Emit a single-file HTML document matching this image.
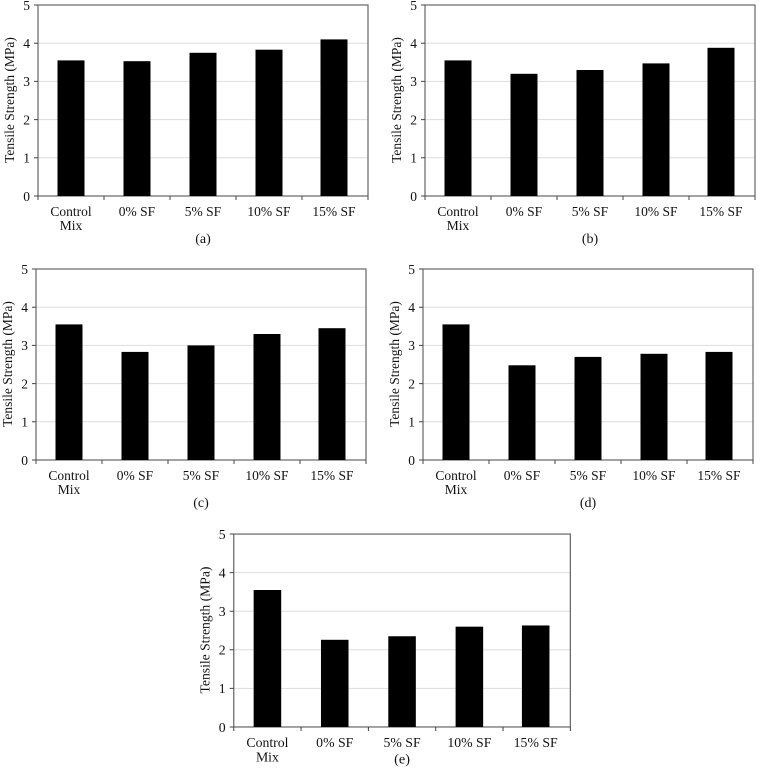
<!DOCTYPE html>
<html><head><meta charset="utf-8"><style>
html,body{margin:0;padding:0;background:#fff;}
svg{display:block;}
text{font-family:"Liberation Serif",serif;font-size:13.5px;fill:#111;}
.g{stroke:#ddd;stroke-width:1}
.t{stroke:#444;stroke-width:1}
</style></head><body>
<svg width="764" height="771" viewBox="0 0 764 771" xmlns="http://www.w3.org/2000/svg">

<g transform="translate(0,0)">
<line class="g" x1="38" y1="157.8" x2="368" y2="157.8"/><line class="g" x1="38" y1="119.6" x2="368" y2="119.6"/><line class="g" x1="38" y1="81.4" x2="368" y2="81.4"/><line class="g" x1="38" y1="43.2" x2="368" y2="43.2"/>
<rect x="38" y="5" width="330" height="191" fill="none" stroke="#666" stroke-width="1.2"/>
<path class="t" d="M38 196v4M104 196v4M170 196v4M236 196v4M302 196v4M368 196v4M34 196h4M34 157.8h4M34 119.6h4M34 81.4h4M34 43.2h4M34 5h4"/>
<g text-anchor="end"><text x="30" y="201">0</text><text x="30" y="162.5">1</text><text x="30" y="124.5">2</text><text x="30" y="86">3</text><text x="30" y="48">4</text><text x="30" y="10">5</text></g>
<text transform="translate(14,100) rotate(-90)" text-anchor="middle">Tensile Strength (MPa)</text>
<g text-anchor="middle"><text x="71" y="216">Control</text><text x="71" y="230">Mix</text><text x="137" y="216">0% SF</text><text x="203" y="216">5% SF</text><text x="269" y="216">10% SF</text><text x="334" y="216">15% SF</text></g>
<g fill="#000">
<rect x="57.5" y="60.4" width="27" height="135.6"/><rect x="123.5" y="61.2" width="27" height="134.8"/>
<rect x="189.5" y="52.8" width="27" height="143.2"/><rect x="255.5" y="49.7" width="27" height="146.3"/>
<rect x="320.5" y="39.4" width="27" height="156.6"/>
</g>
<text x="203" y="243" style="font-size:14px" text-anchor="middle">(a)</text>
</g>

<g transform="translate(387,0)">
<line class="g" x1="38" y1="157.8" x2="368" y2="157.8"/><line class="g" x1="38" y1="119.6" x2="368" y2="119.6"/><line class="g" x1="38" y1="81.4" x2="368" y2="81.4"/><line class="g" x1="38" y1="43.2" x2="368" y2="43.2"/>
<rect x="38" y="5" width="330" height="191" fill="none" stroke="#666" stroke-width="1.2"/>
<path class="t" d="M38 196v4M104 196v4M170 196v4M236 196v4M302 196v4M368 196v4M34 196h4M34 157.8h4M34 119.6h4M34 81.4h4M34 43.2h4M34 5h4"/>
<g text-anchor="end"><text x="30" y="201">0</text><text x="30" y="162.5">1</text><text x="30" y="124.5">2</text><text x="30" y="86">3</text><text x="30" y="48">4</text><text x="30" y="10">5</text></g>
<text transform="translate(14,100) rotate(-90)" text-anchor="middle">Tensile Strength (MPa)</text>
<g text-anchor="middle"><text x="71" y="216">Control</text><text x="71" y="230">Mix</text><text x="137" y="216">0% SF</text><text x="203" y="216">5% SF</text><text x="269" y="216">10% SF</text><text x="334" y="216">15% SF</text></g>
<g fill="#000">
<rect x="57.5" y="60.4" width="27" height="135.6"/><rect x="123.5" y="73.8" width="27" height="122.2"/>
<rect x="189.5" y="70" width="27" height="126"/><rect x="255.5" y="63.4" width="27" height="132.6"/>
<rect x="320.5" y="47.8" width="27" height="148.2"/>
</g>
<text x="203" y="243" style="font-size:14px" text-anchor="middle">(b)</text>
</g>

<g transform="translate(-2,264)">
<line class="g" x1="38" y1="157.8" x2="368" y2="157.8"/><line class="g" x1="38" y1="119.6" x2="368" y2="119.6"/><line class="g" x1="38" y1="81.4" x2="368" y2="81.4"/><line class="g" x1="38" y1="43.2" x2="368" y2="43.2"/>
<rect x="38" y="5" width="330" height="191" fill="none" stroke="#666" stroke-width="1.2"/>
<path class="t" d="M38 196v4M104 196v4M170 196v4M236 196v4M302 196v4M368 196v4M34 196h4M34 157.8h4M34 119.6h4M34 81.4h4M34 43.2h4M34 5h4"/>
<g text-anchor="end"><text x="30" y="201">0</text><text x="30" y="162.5">1</text><text x="30" y="124.5">2</text><text x="30" y="86">3</text><text x="30" y="48">4</text><text x="30" y="10">5</text></g>
<text transform="translate(14,100) rotate(-90)" text-anchor="middle">Tensile Strength (MPa)</text>
<g text-anchor="middle"><text x="71" y="216">Control</text><text x="71" y="230">Mix</text><text x="137" y="216">0% SF</text><text x="203" y="216">5% SF</text><text x="269" y="216">10% SF</text><text x="334" y="216">15% SF</text></g>
<g fill="#000">
<rect x="57.5" y="60.4" width="27" height="135.6"/><rect x="123.5" y="87.9" width="27" height="108.1"/>
<rect x="189.5" y="81.4" width="27" height="114.6"/><rect x="255.5" y="70" width="27" height="126"/>
<rect x="320.5" y="64.2" width="27" height="131.8"/>
</g>
<text x="203" y="243" style="font-size:14px" text-anchor="middle">(c)</text>
</g>

<g transform="translate(385,264)">
<line class="g" x1="38" y1="157.8" x2="368" y2="157.8"/><line class="g" x1="38" y1="119.6" x2="368" y2="119.6"/><line class="g" x1="38" y1="81.4" x2="368" y2="81.4"/><line class="g" x1="38" y1="43.2" x2="368" y2="43.2"/>
<rect x="38" y="5" width="330" height="191" fill="none" stroke="#666" stroke-width="1.2"/>
<path class="t" d="M38 196v4M104 196v4M170 196v4M236 196v4M302 196v4M368 196v4M34 196h4M34 157.8h4M34 119.6h4M34 81.4h4M34 43.2h4M34 5h4"/>
<g text-anchor="end"><text x="30" y="201">0</text><text x="30" y="162.5">1</text><text x="30" y="124.5">2</text><text x="30" y="86">3</text><text x="30" y="48">4</text><text x="30" y="10">5</text></g>
<text transform="translate(14,100) rotate(-90)" text-anchor="middle">Tensile Strength (MPa)</text>
<g text-anchor="middle"><text x="71" y="216">Control</text><text x="71" y="230">Mix</text><text x="137" y="216">0% SF</text><text x="203" y="216">5% SF</text><text x="269" y="216">10% SF</text><text x="334" y="216">15% SF</text></g>
<g fill="#000">
<rect x="57.5" y="60.4" width="27" height="135.6"/><rect x="123.5" y="101.3" width="27" height="94.7"/>
<rect x="189.5" y="92.9" width="27" height="103.1"/><rect x="255.5" y="89.8" width="27" height="106.2"/>
<rect x="320.5" y="87.9" width="27" height="108.1"/>
</g>
<text x="203" y="243" style="font-size:14px" text-anchor="middle">(d)</text>
</g>

<g transform="translate(195,529) scale(1.02,1.01)">
<line class="g" x1="38" y1="157.8" x2="368" y2="157.8"/><line class="g" x1="38" y1="119.6" x2="368" y2="119.6"/><line class="g" x1="38" y1="81.4" x2="368" y2="81.4"/><line class="g" x1="38" y1="43.2" x2="368" y2="43.2"/>
<rect x="38" y="5" width="330" height="191" fill="none" stroke="#666" stroke-width="1.2"/>
<path class="t" d="M38 196v4M104 196v4M170 196v4M236 196v4M302 196v4M368 196v4M34 196h4M34 157.8h4M34 119.6h4M34 81.4h4M34 43.2h4M34 5h4"/>
<g text-anchor="end"><text x="30" y="201">0</text><text x="30" y="162.5">1</text><text x="30" y="124.5">2</text><text x="30" y="86">3</text><text x="30" y="48">4</text><text x="30" y="10">5</text></g>
<text transform="translate(14,100) rotate(-90)" text-anchor="middle">Tensile Strength (MPa)</text>
<g text-anchor="middle"><text x="71" y="216">Control</text><text x="71" y="230">Mix</text><text x="137" y="216">0% SF</text><text x="203" y="216">5% SF</text><text x="269" y="216">10% SF</text><text x="334" y="216">15% SF</text></g>
<g fill="#000">
<rect x="57.5" y="60.4" width="27" height="135.6"/><rect x="123.5" y="109.7" width="27" height="86.3"/>
<rect x="189.5" y="106.2" width="27" height="89.8"/><rect x="255.5" y="96.7" width="27" height="99.3"/>
<rect x="320.5" y="95.5" width="27" height="100.5"/>
</g>
<text x="203" y="232" style="font-size:14px" text-anchor="middle">(e)</text>
</g>
</svg>
</body></html>
